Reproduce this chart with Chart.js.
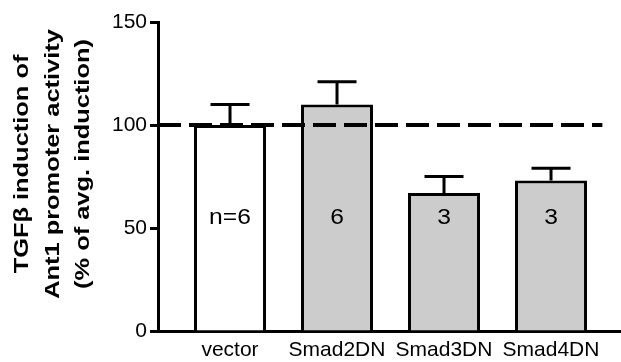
<!DOCTYPE html>
<html>
<head>
<meta charset="utf-8">
<script src="https://cdn.jsdelivr.net/npm/chart.js@4/dist/chart.umd.min.js"></script>
<style>
  html, body { margin: 0; padding: 0; background: #fff; }
  #wrap { width: 621px; height: 362px; position: relative; }
</style>
</head>
<body>
<div id="wrap"><canvas id="c"></canvas></div>
<script>
// ---- data ----
const categories = ["vector", "Smad2DN", "Smad3DN", "Smad4DN"];
const means = [100, 110, 67, 73];
const errorsUp = [10, 11, 8, 6];
const nLabels = ["n=6", "6", "3", "3"];
const barColors = ["#ffffff", "#cccccc", "#cccccc", "#cccccc"];
const yTicks = [0, 50, 100, 150];
const referenceValue = 100;
const titleLines = ["TGF\u03b2 induction of", "Ant1 promoter activity", "(% of avg. induction)"];

const FONT = "'Liberation Sans', Arial, Helvetica, sans-serif";

const errorBarPlugin = {
  id: 'extras',
  afterDatasetsDraw(chart) {
    const ctx = chart.ctx;
    const xs = chart.scales.x, ys = chart.scales.y;
    ctx.save();
    // reference dashed line
    ctx.strokeStyle = '#000';
    ctx.lineWidth = 4;
    ctx.setLineDash([23, 8]);
    const yRef = ys.getPixelForValue(referenceValue);
    ctx.beginPath();
    ctx.moveTo(chart.chartArea.left, yRef);
    ctx.lineTo(xs.getPixelForValue(4.48), yRef);
    ctx.stroke();
    ctx.setLineDash([]);
    // error bars
    ctx.lineWidth = 3;
    means.forEach((m, i) => {
      const x = xs.getPixelForValue(i + 1);
      const y0 = ys.getPixelForValue(m);
      const y1 = ys.getPixelForValue(m + errorsUp[i]);
      ctx.beginPath();
      ctx.moveTo(x, y0);
      ctx.lineTo(x, y1);
      ctx.moveTo(x - 19.5, y1);
      ctx.lineTo(x + 19.5, y1);
      ctx.stroke();
    });
    // n labels
    ctx.fillStyle = '#000';
    ctx.font = '22px ' + FONT;
    ctx.textAlign = 'center';
    ctx.textBaseline = 'middle';
    nLabels.forEach((t, i) => {
      ctx.save();
      ctx.translate(xs.getPixelForValue(i + 1), ys.getPixelForValue(55));
      ctx.scale(1.12, 1);
      ctx.fillText(t, 0, 0);
      ctx.restore();
    });
    // y title (stretched)
    ctx.font = 'bold 21px ' + FONT;
    ctx.textBaseline = 'alphabetic';
    const baselines = [28, 59, 89];
    titleLines.forEach((t, i) => {
      ctx.save();
      ctx.translate(baselines[i], 164);
      ctx.rotate(-Math.PI / 2);
      ctx.scale(1.21, 1);
      ctx.fillText(t, 0, 0);
      ctx.restore();
    });
    ctx.restore();
  }
};

new Chart(document.getElementById('c'), {
  type: 'bar',
  data: {
    datasets: [{
      data: means.map((v, i) => ({ x: i + 1, y: v })),
      backgroundColor: barColors,
      borderColor: '#000',
      borderWidth: 3,
      borderSkipped: 'bottom',
      barPercentage: 0.673,
      categoryPercentage: 1.0
    }]
  },
  options: {
    responsive: true,
    maintainAspectRatio: false,
    animation: false,
    devicePixelRatio: 1,
    layout: { padding: { top: 22, right: 0, left: 0, bottom: 0 } },
    plugins: { legend: { display: false }, tooltip: { enabled: false } },
    scales: {
      x: {
        type: 'linear',
        offset: false,
        min: 0.327,
        max: 4.654,
        grid: { display: false, drawTicks: false, offset: false },
        border: { display: true, color: '#000', width: 3 },
        afterBuildTicks: (s) => { s.ticks = categories.map((c, i) => ({ value: i + 1 })); },
        afterFit: (s) => { s.height = 31; },
        ticks: {
          color: '#000',
          font: { size: 21, family: FONT },
          padding: 7,
          autoSkip: false,
          maxRotation: 0,
          callback: (v) => categories[v - 1]
        }
      },
      y: {
        min: 0,
        max: 150,
        afterBuildTicks: (s) => { s.ticks = yTicks.map(v => ({ value: v })); },
        afterFit: (s) => { s.width = 158; },
        grid: { display: true, drawOnChartArea: false, drawTicks: true, tickLength: 8, tickColor: '#000', tickWidth: 3 },
        border: { display: true, color: '#000', width: 3 },
        ticks: {
          color: '#000',
          font: { size: 21, family: FONT },
          padding: 3
        }
      }
    }
  },
  plugins: [errorBarPlugin]
});
</script>
</body>
</html>
